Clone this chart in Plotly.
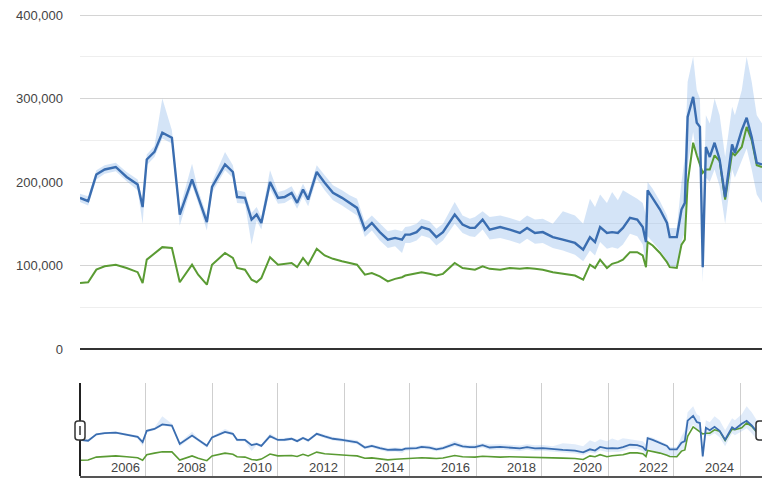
import plotly.graph_objects as go

W, H = 762, 479

dates = [
    "2005-01-01", "2005-04-01", "2005-07-01", "2005-10-01", "2006-02-01", "2006-06-01",
    "2006-10-01", "2006-11-25", "2007-01-10", "2007-04-05", "2007-07-01", "2007-10-15",
    "2008-01-10", "2008-05-25", "2008-08-01", "2008-11-05", "2009-01-01", "2009-05-25",
    "2009-08-20", "2009-10-05", "2010-01-01", "2010-03-15", "2010-05-10", "2010-07-01",
    "2010-10-05", "2011-01-01", "2011-03-15", "2011-06-01", "2011-08-01", "2011-10-05",
    "2011-12-01", "2012-03-05", "2012-06-01", "2012-09-01", "2012-12-10", "2013-03-05",
    "2013-05-25", "2013-08-20", "2013-11-05", "2014-02-01", "2014-05-01", "2014-07-20",
    "2014-10-05", "2014-11-10", "2015-01-01", "2015-03-15", "2015-05-10", "2015-08-05",
    "2015-10-20", "2016-01-01", "2016-05-10", "2016-08-05", "2016-10-25", "2016-12-20",
    "2017-03-15", "2017-06-01", "2017-09-25", "2018-01-10", "2018-05-01", "2018-07-20",
    "2018-10-15", "2019-01-10", "2019-05-01", "2019-08-20", "2020-01-01", "2020-04-01",
    "2020-06-15", "2020-08-10", "2020-10-05", "2020-12-20", "2021-02-15", "2021-04-20",
    "2021-06-15", "2021-09-01", "2021-11-20", "2022-01-20", "2022-02-25", "2022-03-15",
    "2022-05-10", "2022-07-30", "2022-10-15", "2022-11-15", "2023-02-01", "2023-03-25",
    "2023-05-01", "2023-06-01", "2023-08-01", "2023-09-10", "2023-10-15", "2023-11-15",
    "2023-12-20", "2024-02-01", "2024-03-25", "2024-05-20", "2024-07-20", "2024-10-05",
    "2024-11-05", "2025-01-20", "2025-03-15", "2025-05-10", "2025-07-05", "2025-09-01",
]

blue = [
    181000, 177000, 209000, 215000, 218000, 206000, 197000, 170000, 227000, 236000, 259000, 253000,
    161000, 203000, 182000, 152000, 194000, 221000, 212000, 182000, 181000, 155000, 161000, 151000,
    200000, 181000, 182000, 187000, 175000, 191000, 179000, 212000, 199000, 187000, 181000, 175000,
    169000, 143000, 151000, 140000, 131000, 133000, 131000, 137000, 137000, 140000, 146000, 143000,
    134000, 140000, 161000, 149000, 145000, 145000, 155000, 143000, 146000, 143000, 139000, 145000,
    139000, 140000, 134000, 131000, 127000, 119000, 134000, 128000, 146000, 139000, 140000, 139000,
    145000, 157000, 155000, 146000, 128000, 190000, 181000, 167000, 151000, 134000, 134000, 167000,
    175000, 278000, 302000, 271000, 266000, 98000, 242000, 230000, 247000, 227000, 182000, 245000,
    235000, 262000, 277000, 254000, 223000, 221000,
]

green = [
    79000, 80000, 95000, 99000, 101000, 97000, 92000, 79000, 107000, 115000, 122000, 121000,
    80000, 101000, 89000, 77000, 101000, 115000, 109000, 97000, 95000, 83000, 80000, 85000,
    110000, 101000, 102000, 103000, 98000, 109000, 101000, 120000, 112000, 108000, 105000, 103000,
    101000, 89000, 91000, 87000, 81000, 84000, 86000, 88000, 89000, 91000, 92000, 90000,
    88000, 90000, 103000, 97000, 96000, 95000, 99000, 96000, 95000, 97000, 96000, 97000,
    96000, 95000, 92000, 90000, 88000, 83000, 101000, 97000, 107000, 97000, 102000, 104000,
    107000, 116000, 116000, 112000, 98000, 128000, 124000, 115000, 104000, 98000, 97000, 125000,
    131000, 199000, 247000, 232000, 222000, 211000, 215000, 215000, 232000, 225000, 179000, 235000,
    232000, 242000, 266000, 250000, 220000, 218000,
]

blue_low = [
    176000, 172000, 203000, 210000, 213000, 201000, 190000, 150000, 220000, 230000, 252000, 246000,
    148000, 196000, 175000, 142000, 187000, 214000, 205000, 175000, 174000, 125000, 154000, 143000,
    192000, 174000, 175000, 180000, 168000, 183000, 171000, 204000, 190000, 178000, 172000, 166000,
    160000, 134000, 142000, 130000, 121000, 123000, 115000, 127000, 127000, 130000, 136000, 133000,
    124000, 130000, 150000, 139000, 135000, 134000, 143000, 131000, 133000, 130000, 126000, 132000,
    126000, 127000, 121000, 118000, 113000, 105000, 118000, 112000, 128000, 120000, 122000, 120000,
    125000, 138000, 135000, 125000, 100000, 135000, 128000, 118000, 106000, 99000, 98000, 128000,
    140000, 220000, 260000, 230000, 220000, 80000, 205000, 200000, 215000, 195000, 150000, 215000,
    205000, 225000, 240000, 215000, 185000, 175000,
]

blue_high = [
    186000, 183000, 214000, 220000, 223000, 212000, 203000, 178000, 233000, 243000, 300000, 262000,
    168000, 222000, 190000, 160000, 200000, 236000, 220000, 190000, 188000, 163000, 170000, 158000,
    214000, 188000, 190000, 195000, 183000, 198000, 186000, 220000, 208000, 196000, 190000, 184000,
    180000, 152000, 160000, 150000, 141000, 143000, 141000, 146000, 147000, 150000, 156000, 153000,
    144000, 150000, 176000, 160000, 156000, 158000, 165000, 158000, 160000, 157000, 153000, 160000,
    155000, 156000, 150000, 165000, 160000, 150000, 180000, 170000, 185000, 175000, 188000, 178000,
    190000, 185000, 180000, 175000, 160000, 200000, 192000, 177000, 160000, 145000, 145000, 200000,
    230000, 320000, 350000, 310000, 300000, 150000, 280000, 270000, 300000, 280000, 230000, 290000,
    280000, 310000, 350000, 320000, 280000, 270000,
]

y_ticks = [0, 100000, 200000, 300000, 400000]
y_tick_labels = ["0", "100,000", "200,000", "300,000", "400,000"]
y_minor = [50000, 150000, 250000, 350000]
year_labels = ["2006", "2008", "2010", "2012", "2014", "2016", "2018", "2020", "2022", "2024"]
year_label_pos = [y + "-05-15" for y in year_labels]
range_grid = [f"{y}-01-01" for y in range(2007, 2026, 2)]

BLUE = "#3a6db0"
GREEN = "#5a9b33"
BAND = "rgba(120,170,230,0.32)"
TEXT = "#444444"
FONT = "Liberation Sans, Arial, sans-serif"

def py(p):
    return 1 - p / H

def px(p):
    return p / W

fig = go.Figure()

# main chart
fig.add_trace(go.Scatter(x=dates, y=blue_low, mode="lines", line=dict(width=0),
                         hoverinfo="skip", showlegend=False))
fig.add_trace(go.Scatter(x=dates, y=blue_high, mode="lines", line=dict(width=0),
                         fill="tonexty", fillcolor=BAND, hoverinfo="skip", showlegend=False))
fig.add_trace(go.Scatter(x=dates, y=green, mode="lines", line=dict(color=GREEN, width=2),
                         showlegend=False))
fig.add_trace(go.Scatter(x=dates, y=blue, mode="lines", line=dict(color=BLUE, width=2.4),
                         showlegend=False))

# range selector chart
fig.add_trace(go.Scatter(x=dates, y=blue_low, mode="lines", line=dict(width=0),
                         xaxis="x2", yaxis="y2", hoverinfo="skip", showlegend=False))
fig.add_trace(go.Scatter(x=dates, y=blue_high, mode="lines", line=dict(width=0),
                         fill="tonexty", fillcolor="rgba(120,170,230,0.22)",
                         xaxis="x2", yaxis="y2", hoverinfo="skip", showlegend=False))
fig.add_trace(go.Scatter(x=dates, y=green, mode="lines", line=dict(color=GREEN, width=1.6),
                         xaxis="x2", yaxis="y2", showlegend=False))
fig.add_trace(go.Scatter(x=dates, y=blue, mode="lines", line=dict(color=BLUE, width=1.8),
                         xaxis="x2", yaxis="y2", showlegend=False))

x_range = ["2005-01-01", "2025-09-01"]
x_dom = [px(80), 1.0]

fig.update_layout(
    width=W, height=H,
    margin=dict(l=0, r=0, t=0, b=0, pad=0, autoexpand=False),
    paper_bgcolor="white", plot_bgcolor="white",
    font=dict(family=FONT, size=13, color=TEXT),
    showlegend=False,
    xaxis=dict(domain=x_dom, range=x_range, type="date", showgrid=False, showticklabels=False,
               zeroline=False, showline=False, ticks="", automargin=False),
    yaxis=dict(domain=[py(349), py(349 - 410000 * 83.5 / 100000)], range=[0, 410000],
               tickvals=y_ticks, ticktext=y_tick_labels, showgrid=True, gridcolor="#d4d4d4",
               gridwidth=1, zeroline=True, zerolinecolor="#333333", zerolinewidth=2,
               ticks="", ticklabelstandoff=16, tickfont=dict(size=13, color=TEXT),
               automargin=False,
               minor=dict(tickvals=y_minor, showgrid=True, gridcolor="#eeeeee", ticks="")),
    xaxis2=dict(domain=x_dom, range=x_range, type="date", anchor="y2",
                tickvals=range_grid, showticklabels=False, showgrid=True, gridcolor="#cfcfcf",
                ticks="", showline=True, linecolor="#555555", linewidth=1.5, zeroline=False,
                automargin=False),
    yaxis2=dict(domain=[py(476), py(383)], range=[0, 467000], anchor="x2", showgrid=False,
                showticklabels=False, zeroline=False, ticks="", automargin=False),
)

for lab, pos in zip(year_labels, year_label_pos):
    fig.add_annotation(x=pos, y=py(467), xref="x2", yref="paper", text=lab, showarrow=False,
                       font=dict(size=13, color=TEXT), xanchor="center", yanchor="middle")

def rounded_rect(x0, x1, y0, y1, r):
    X0, X1 = px(x0), px(x1)
    Y0, Y1 = py(y0), py(y1)
    rx, ry = r / W, r / H
    return (f"M {X0+rx},{Y0} L {X1-rx},{Y0} Q {X1},{Y0} {X1},{Y0-ry} "
            f"L {X1},{Y1+ry} Q {X1},{Y1} {X1-rx},{Y1} L {X0+rx},{Y1} "
            f"Q {X0},{Y1} {X0},{Y1+ry} L {X0},{Y0-ry} Q {X0},{Y0} {X0+rx},{Y0} Z")

shapes = [
    dict(type="line", xref="paper", yref="paper", x0=px(80), x1=px(80), y0=py(383), y1=py(476),
         line=dict(color="#222222", width=2)),
    dict(type="path", xref="paper", yref="paper", path=rounded_rect(75, 85, 421, 440, 3),
         fillcolor="white", line=dict(color="#333333", width=1.5)),
    dict(type="line", xref="paper", yref="paper", x0=px(80), x1=px(80), y0=py(426), y1=py(435),
         line=dict(color="#333333", width=1.5)),
    dict(type="path", xref="paper", yref="paper", path=rounded_rect(756, 766, 421, 440, 3),
         fillcolor="white", line=dict(color="#333333", width=1.5)),
]
fig.update_layout(shapes=shapes)

fig.write_html("out.html", config={"displayModeBar": False},
               post_script="document.body.style.margin='0';document.body.style.overflow='hidden';")
